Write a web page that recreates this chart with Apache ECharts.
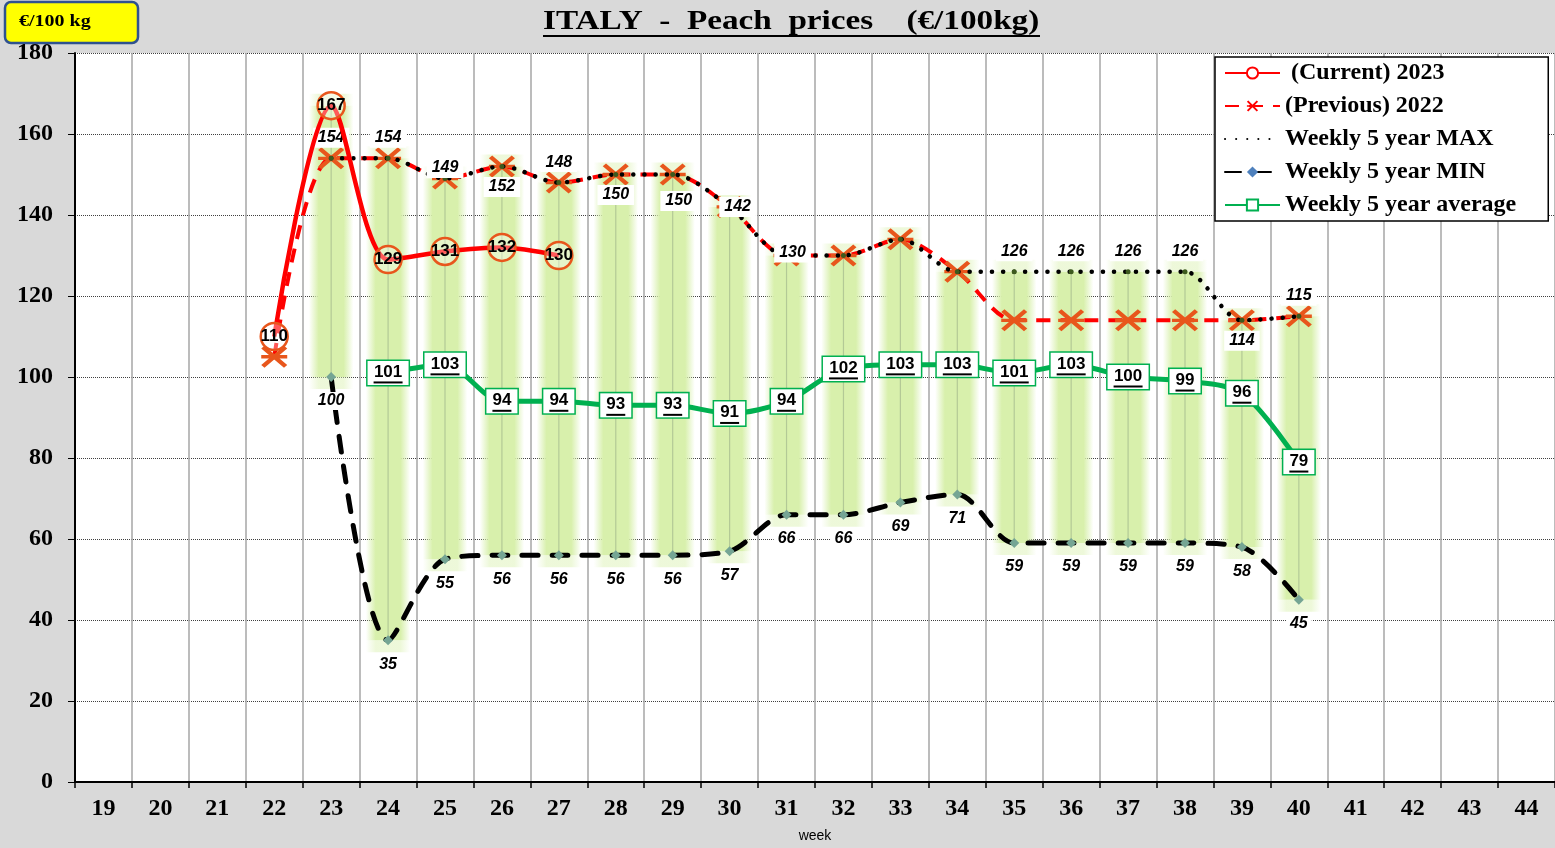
<!DOCTYPE html>
<html>
<head>
<meta charset="utf-8">
<script src="https://cdn.jsdelivr.net/npm/echarts@6/dist/echarts.min.js"></script>
<style>html,body{margin:0;padding:0;background:#d9d9d9;}#c{width:1555px;height:848px;}</style>
</head>
<body>
<div id="c"></div>
<script>
// ---- data ----
const weeks = ['19','20','21','22','23','24','25','26','27','28','29','30','31','32','33','34','35','36','37','38','39','40','41','42','43','44'];
const current2023 = [null,null,null,110,167,129,131,132,130,null,null,null,null,null,null,null,null,null,null,null,null,null,null,null,null,null];
const previous2022 = [null,null,null,105,154,154,149,152,148,150,150,142,130,130,134,126,114,114,114,114,114,115,null,null,null,null];
const max5 = [null,null,null,null,154,154,149,152,148,150,150,142,130,130,134,126,126,126,126,126,114,115,null,null,null,null];
const min5 = [null,null,null,null,100,35,55,56,56,56,56,57,66,66,69,71,59,59,59,59,58,45,null,null,null,null];
const avg5 = [null,null,null,null,null,101,103,94,94,93,93,91,94,102,103,103,101,103,100,99,96,79,null,null,null,null];
const yTicks = {min:0, max:180, interval:20};

// label placement (style, not data)
const maxLabelPlace = {'26':'bottom','28':'bottom','29':'bottom','39':'bottom','30':'inside','31':'inside'};
const maxLabelOffset = {'25':[0,10],'29':[6,6],'30':[8,0],'31':[6,-3]};
const maxLabelHidden = ['32','33','34'];

const NAMES = [' (Current) 2023','(Previous) 2022','Weekly 5 year MAX','Weekly 5 year MIN','Weekly 5 year average'];
const ORANGE = '#e8561c';
const crossPath = 'path://M0,8.5L20,8.5L20,11.5L0,11.5Z M0,2.5L2.5,0L20,17.5L17.5,20Z M17.5,0L20,2.5L2.5,20L0,17.5Z';

const maxData = max5.map((v,i)=>{
  if(v==null) return null;
  const w = weeks[i];
  const pos = maxLabelPlace[w] || 'top';
  return {value:v, label:{show: maxLabelHidden.indexOf(w)<0, position:pos,
    offset: maxLabelOffset[w] || [0,0]}};
});

const rangeData = [];
max5.forEach((v,i)=>{
  if(v==null || min5[i]==null) return;
  const top = current2023[i]!=null ? Math.max(v,current2023[i]) : v;
  rangeData.push([i, min5[i], top]);
});

const chart = echarts.init(document.getElementById('c'));
const hGrad = (a)=> new echarts.graphic.LinearGradient(0,0,1,0,[
  {offset:0,color:'rgba(216,240,172,0)'},
  {offset:0.22,color:'rgba(216,240,172,'+a+')'},
  {offset:0.78,color:'rgba(216,240,172,'+a+')'},
  {offset:1,color:'rgba(216,240,172,0)'}]);

const labBase = {fontFamily:'Liberation Sans, Arial', fontWeight:'bold', color:'#000'};

const option = {
  backgroundColor:'#d9d9d9',
  animation:false,
  graphic:[
    {type:'text', x:543, y:22, scaleX:1.23, style:{text:'ITALY  -  Peach  prices    (€/100kg)', fontFamily:'Liberation Serif', fontWeight:'bold', fontSize:27, fill:'#000', verticalAlign:'middle'}},
    {type:'line', shape:{x1:543,y1:36,x2:1040,y2:36}, style:{stroke:'#000', lineWidth:2}},
    {type:'rect', shape:{x:5,y:2,width:133,height:41,r:6}, style:{fill:'#ffff00', stroke:'#2f528f', lineWidth:2.5}},
    {type:'text', x:19, y:22, scaleX:1.25, style:{text:'€/100 kg', fontFamily:'Liberation Serif', fontWeight:'bold', fontSize:16, fill:'#000', verticalAlign:'middle'}}
  ],
  legend:{
    data:[
      {name:NAMES[0], itemStyle:{borderColor:'#ff0000', color:'#fff'}},
      {name:NAMES[1], itemStyle:{color:'#ff0000'}},
      {name:NAMES[2], itemStyle:{color:'rgba(0,0,0,0)'}},
      {name:NAMES[3], itemStyle:{color:'#4f81bd'}},
      {name:NAMES[4]}
    ],
    orient:'vertical', left:1215, top:57, itemWidth:55, itemHeight:14, itemGap:9,
    backgroundColor:'#fff', borderColor:'#000', borderWidth:1.5, borderRadius:0, padding:[4,32,4,9],
    textStyle:{fontFamily:'Liberation Serif', fontWeight:'bold', fontSize:24, color:'#000'}
  },
  grid:{left:75, top:53, width:1482, height:732, show:true, backgroundColor:'#fff', borderWidth:0},
  xAxis:{
    type:'category', data:weeks, boundaryGap:true,
    name:'week', nameLocation:'middle', nameGap:47,
    nameTextStyle:{fontFamily:'Liberation Sans, Arial', fontSize:14, color:'#000'},
    axisLine:{lineStyle:{color:'#000', width:2}},
    axisTick:{show:true, length:6, lineStyle:{color:'#000', width:1.5}},
    axisLabel:{fontFamily:'Liberation Serif', fontWeight:'bold', fontSize:24, color:'#000', margin:15},
    splitLine:{show:true, lineStyle:{color:'#a6a6a6', width:1.5}}
  },
  yAxis:{
    type:'value', min:yTicks.min, max:yTicks.max, interval:yTicks.interval,
    axisLine:{show:true, lineStyle:{color:'#000', width:2}},
    axisTick:{show:true, length:7, lineStyle:{color:'#000'}},
    axisLabel:{fontFamily:'Liberation Serif', fontWeight:'bold', fontSize:24, color:'#000', margin:22},
    splitLine:{show:true, lineStyle:{color:'#404040', width:1, type:[1,1]}}
  },
  series:[
    {
      type:'custom', name:'range', silent:true, z:1,
      data:rangeData, encode:{x:0, y:[1,2]},
      renderItem:(params, api)=>{
        const x = api.value(0);
        const pTop = api.coord([x, api.value(2)]);
        const pBot = api.coord([x, api.value(1)]);
        const w = api.size([1,0])[0]*0.78;
        const cap = 12;
        return {type:'group', children:[
          {type:'rect', shape:{x:pTop[0]-w/2, y:pTop[1]-cap, width:w, height:cap}, style:{fill:hGrad(0.45)}},
          {type:'rect', shape:{x:pTop[0]-w/2, y:pTop[1], width:w, height:pBot[1]-pTop[1]}, style:{fill:hGrad(1)}},
          {type:'rect', shape:{x:pTop[0]-w/2, y:pBot[1], width:w, height:cap}, style:{fill:hGrad(0.45)}},
          {type:'line', shape:{x1:pTop[0], y1:pTop[1], x2:pTop[0], y2:pBot[1]}, style:{stroke:'#b3c996', lineWidth:1.2}}
        ]};
      }
    },
    {
      name:NAMES[4], type:'line', data:avg5, z:3, smooth:0.3,
      lineStyle:{color:'#00b050', width:5},
      symbol:'rect', symbolSize:14, itemStyle:{color:'#fff', borderColor:'#00b050', borderWidth:2},
      label:{show:true, position:'inside',
        formatter:(p)=> '{t|'+p.value+'}\n{u'+String(p.value).length+'|}',
        backgroundColor:'#fff', borderColor:'#00b050', borderWidth:1.5, padding:[2,6,1,6],
        rich:{
          t:Object.assign({fontSize:17, lineHeight:18, align:'center'}, labBase),
          u2:{width:19, height:2, lineHeight:3, backgroundColor:'#000', align:'center'},
          u3:{width:29, height:2, lineHeight:3, backgroundColor:'#000', align:'center'}
        }}
    },
    {
      name:NAMES[3], type:'line', data:min5, z:4, smooth:0.3,
      lineStyle:{color:'#000', width:5, type:[16,14], cap:'round'},
      symbol:'diamond', symbolSize:10, itemStyle:{color:'#75a594'},
      label:Object.assign({show:true, position:'bottom', distance:10, fontSize:16, fontStyle:'italic',
        backgroundColor:'#fff', padding:[1,4]}, labBase)
    },
    {
      name:NAMES[1], type:'line', data:previous2022, z:5, smooth:0.3,
      lineStyle:{color:'#ff0000', width:4, type:[14,10]},
      symbol:crossPath, symbolSize:[26,22], itemStyle:{color:ORANGE},
      label:{show:false}
    },
    {
      name:NAMES[2], type:'line', data:maxData, z:6, smooth:0.3,
      lineStyle:{color:'#000', width:4.5, type:[0.1,11], cap:'round'},
      symbol:'circle', symbolSize:5, itemStyle:{color:'#3d5a1e'},
      label:Object.assign({show:true, position:'top', distance:8, fontSize:16, fontStyle:'italic',
        backgroundColor:'#fff', padding:[2,5]}, labBase)
    },
    {
      name:NAMES[0], type:'line', data:current2023, z:7, smooth:0.3,
      lineStyle:{color:'#ff0000', width:4.5},
      symbol:'circle', symbolSize:27, itemStyle:{color:'rgba(255,255,255,0.35)', borderColor:ORANGE, borderWidth:2.5},
      label:Object.assign({show:true, position:'inside', fontSize:17}, labBase)
    }
  ]
};
chart.setOption(option);
</script>
</body>
</html>
